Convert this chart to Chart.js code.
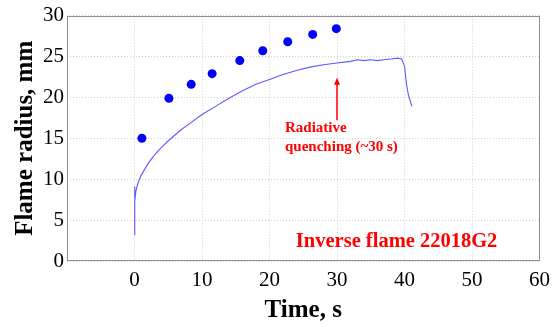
<!DOCTYPE html>
<html><head><meta charset="utf-8">
<script src="https://cdn.jsdelivr.net/npm/chart.js@4"></script>
<style>html,body{margin:0;padding:0;background:#fff}#wrap{width:557px;height:327px}</style>
</head><body><div id="wrap"><canvas id="c" width="557" height="327"></canvas></div>
<script>
// Measured dots (time s, radius mm)
const dotTimes = [1.1, 5.1, 8.4, 11.5, 15.6, 19.0, 22.7, 26.4, 29.9];
const dotRadii = [15.0, 19.9, 21.6, 22.9, 24.5, 25.7, 26.8, 27.7, 28.4];
// Continuous trace (time s, radius mm)
const lineTimes = [0, 0.02, 0.05, 0.2, 0.5, 1, 2, 3, 4, 5, 6, 7, 8, 10, 12, 14, 16, 18, 20, 22, 24, 26, 28, 30, 32, 33, 34, 35, 36, 37, 38, 39, 39.6, 40, 40.3, 40.6, 41.1];
const lineRadii = [3.2, 9.1, 7.3, 8.5, 9.5, 10.5, 11.9, 13.0, 13.9, 14.7, 15.4, 16.1, 16.7, 17.9, 18.9, 19.9, 20.8, 21.6, 22.2, 22.8, 23.3, 23.7, 24.0, 24.2, 24.4, 24.6, 24.5, 24.6, 24.5, 24.6, 24.7, 24.8, 24.7, 23.8, 21.6, 20.2, 18.9];
// Axis ticks
const xTicks = [0, 10, 20, 30, 40, 50, 60];
const yTicks = [0, 5, 10, 15, 20, 25, 30];
// Annotation texts
const noteLines = ["Radiative", "quenching (~30 s)"];
const noteLabel = "Inverse flame 22018G2";
const arrowAt = [30, 17.2, 22.4]; // x, y from, y to
const notePos = [22.3, 16.2, 13.9];
const labelPos = [23.9, 2.3];

const serif = '"Liberation Serif", "Times New Roman", serif';

const annotate = {
  id: 'annotate',
  afterDatasetsDraw(chart) {
    const {ctx, chartArea: a, scales: {x, y}} = chart;
    ctx.save();
    // frame
    ctx.strokeStyle = '#8f8f8f';
    ctx.lineWidth = 1;
    ctx.strokeRect(Math.round(a.left) + 0.5, Math.round(a.top) + 0.5, Math.round(a.right - a.left) - 1, Math.round(a.bottom - a.top) - 1);
    // arrow
    const ax = x.getPixelForValue(arrowAt[0]);
    const y0 = y.getPixelForValue(arrowAt[1]);
    const y1 = y.getPixelForValue(arrowAt[2]);
    ctx.strokeStyle = '#ff0000';
    ctx.fillStyle = '#ff0000';
    ctx.lineWidth = 1.5;
    ctx.beginPath(); ctx.moveTo(ax, y0); ctx.lineTo(ax, y1 + 5); ctx.stroke();
    ctx.beginPath(); ctx.moveTo(ax, y1); ctx.lineTo(ax - 3, y1 + 7); ctx.lineTo(ax + 3, y1 + 7); ctx.closePath(); ctx.fill();
    // text
    ctx.font = 'bold 15px ' + serif;
    ctx.textAlign = 'left';
    ctx.textBaseline = 'middle';
    const tx = x.getPixelForValue(notePos[0]);
    ctx.fillText(noteLines[0], tx, y.getPixelForValue(notePos[1]));
    ctx.fillText(noteLines[1], tx, y.getPixelForValue(notePos[2]));
    ctx.font = 'bold 20.5px ' + serif;
    ctx.fillText(noteLabel, x.getPixelForValue(labelPos[0]), y.getPixelForValue(labelPos[1]));
    ctx.restore();
  }
};

new Chart(document.getElementById('c'), {
  type: 'scatter',
  data: {
    datasets: [
      {
        data: lineTimes.map((t, i) => ({x: t, y: lineRadii[i]})),
        showLine: true, borderColor: '#5a5aff', borderWidth: 1.1, pointRadius: 0, fill: false, tension: 0
      },
      {
        data: dotTimes.map((t, i) => ({x: t, y: dotRadii[i]})),
        showLine: false, pointRadius: 4.5, backgroundColor: '#0000ff', borderColor: '#0000ff', borderWidth: 0
      }
    ]
  },
  options: {
    responsive: false, animation: false,
    layout: {padding: {left: 0, right: 14, top: 15, bottom: 0}},
    plugins: {legend: {display: false}, tooltip: {enabled: false}},
    scales: {
      x: {
        type: 'linear', min: -10, max: 60,
        afterBuildTicks: s => { s.ticks = [-10].concat(xTicks).map(v => ({value: v})); },
        afterFit: s => { s.height = 66; },
        ticks: {
          callback: v => (xTicks.includes(v) ? String(v) : ''),
          font: {family: serif, size: 21}, color: '#000', padding: 7, maxRotation: 0, autoSkip: false
        },
        grid: {color: '#d0d0d0', drawTicks: false, lineWidth: 1},
        border: {display: false, dash: [1, 2]},
        title: {display: true, text: 'Time, s', font: {family: serif, size: 25, weight: 'bold'}, color: '#000', padding: {top: 0, bottom: 1}}
      },
      y: {
        type: 'linear', min: 0, max: 30,
        afterBuildTicks: s => { s.ticks = yTicks.map(v => ({value: v})); },
        afterFit: s => { s.width = 67; },
        ticks: {font: {family: serif, size: 21}, color: '#000', padding: 3},
        grid: {color: '#d0d0d0', drawTicks: false, lineWidth: 1},
        border: {display: false, dash: [1, 2]},
        title: {display: true, text: 'Flame radius, mm', font: {family: serif, size: 25, weight: 'bold'}, color: '#000', padding: {top: 11, bottom: 0}}
      }
    }
  },
  plugins: [annotate]
});
</script></body></html>
